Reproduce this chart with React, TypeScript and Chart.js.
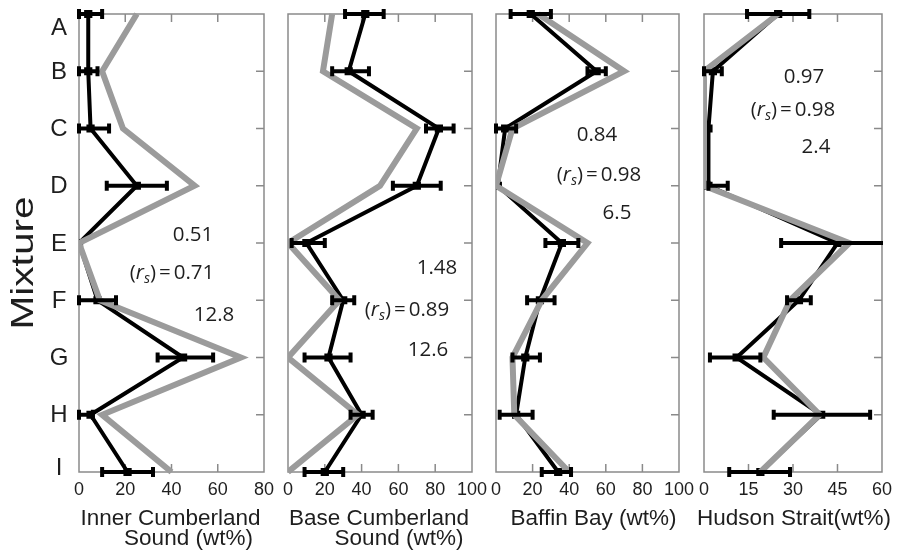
import React, { useEffect, useRef } from "react";
import { Chart, registerables } from "chart.js";

Chart.register(...registerables);

const W = 899;
const H = 551;

const mixtures = ["A", "B", "C", "D", "E", "F", "G", "H", "I"];

// Inner Cumberland Sound (wt%)
const innerMeasured = [4, 4, 5, 25, 0, 8, 45, 5, 21];
const innerLow = [0, 0, 0, 12, null, 0, 34, 0, 10];
const innerHigh = [10, 8, 13, 38, null, 16, 58, 6, 32];
const innerModel = [25, 10, 19, 50, 0, 9, 70, 10, 40];

// Base Cumberland Sound (wt%)
const baseMeasured = [42, 33, 82, 70, 10, 30, 22, 40, 20];
const baseLow = [31, 24, 75, 57, 2, 24, 9, 34, 9];
const baseHigh = [52, 44, 90, 83, 20, 36, 34, 46, 30];
const baseModel = [24, 19, 70, 50, 0, 28, 0, 38, 0];

// Baffin Bay (wt%)
const baffinMeasured = [19, 55, 5, 1, 36, 24, 16, 11, 34];
const baffinLow = [8, 50, 0, null, 27, 17, 9, 2, 25];
const baffinHigh = [30, 60, 11, null, 45, 32, 24, 20, 41];
const baffinModel = [23, 70, 9, 0, 50, 25, 9, 10, 40];

// Hudson Strait (wt%)
const hudsonMeasured = [25, 3, 1.5, 1.5, 45, 32, 11, 39.5, 19];
const hudsonLow = [14.5, 0, null, 1.5, 26, 28, 2, 23.5, 8.5];
const hudsonHigh = [35.5, 6, null, 8, 65, 36, 19, 56, 29];
const hudsonModel = [25, 0, 0, 0, 49, 29, 20, 39, 19];

const axisMax = [80, 100, 100, 60];
const axisStep = [20, 20, 20, 15];

const panelTitles = [
  ["Inner Cumberland", "Sound (wt%)"],
  ["Base Cumberland", "Sound (wt%)"],
  ["Baffin Bay (wt%)"],
  ["Hudson Strait(wt%)"],
];

const statTop = ["0.51", "1.48", "0.84", "0.97"];
const statRs = ["0.71", "0.89", "0.98", "0.98"];
const statBottom = ["12.8", "12.6", "6.5", "2.4"];

const yAxisTitle = "Mixture";

const measured = [innerMeasured, baseMeasured, baffinMeasured, hudsonMeasured];
const lows = [innerLow, baseLow, baffinLow, hudsonLow];
const highs = [innerHigh, baseHigh, baffinHigh, hudsonHigh];
const models = [innerModel, baseModel, baffinModel, hudsonModel];

// ---- layout / style (not data) ----
const HELV = '"Liberation Sans", Arial, Helvetica, sans-serif';
const SANS2 = '"Open Sans", "Noto Sans", sans-serif';
const FRAME = "#8a8a8a";
const GRAY = "#9b9b9b";
const TEXT = "#1e1e1e";

const areaLeft = [79, 288, 496, 704];
const areaRight = [264, 472, 679, 888];
const areaTop = 14;
const areaBottom = 472;

const statPos = [
  [[193, 235], [172, 273], [214, 315]],
  [[437, 268], [407, 310], [428, 350]],
  [[597, 135], [599, 175], [617, 213]],
  [[804, 77], [793, 110], [816, 147]],
];
const titleDx = [[-1, 17], [-1, 19], [6], [1]];

function drawRs(ctx: CanvasRenderingContext2D, value: string, cx: number, cy: number) {
  const base = `20.5px ${SANS2}`;
  const ital = `italic 20.5px ${SANS2}`;
  const sub = `italic 14px ${SANS2}`;
  const parts = [
    { t: "(", f: base, dy: 0, gap: 0 },
    { t: "r", f: ital, dy: 0, gap: 0 },
    { t: "s", f: sub, dy: 6, gap: 0 },
    { t: ")", f: base, dy: 0, gap: 3 },
    { t: "=", f: base, dy: 0, gap: 3 },
    { t: value, f: base, dy: 0, gap: 0 },
  ];
  let total = 0;
  for (const p of parts) {
    ctx.font = p.f;
    total += ctx.measureText(p.t).width + p.gap;
  }
  let x = cx - total / 2;
  ctx.textAlign = "left";
  ctx.textBaseline = "middle";
  for (const p of parts) {
    ctx.font = p.f;
    ctx.fillText(p.t, x, cy + p.dy);
    x += ctx.measureText(p.t).width + p.gap;
  }
}

function makePlugin(idx: number) {
  return {
    id: "decor" + idx,
    beforeDatasetsDraw(chart: any) {
      const { ctx, chartArea: a, scales } = chart;
      const x = scales.x;
      const y = scales.y;
      ctx.save();
      ctx.strokeStyle = FRAME;
      ctx.lineWidth = 1.5;
      ctx.strokeRect(a.left, a.top, a.right - a.left, a.bottom - a.top);
      ctx.beginPath();
      const ticks = x.ticks;
      for (let k = 1; k < ticks.length - 1; k++) {
        const px = x.getPixelForValue(ticks[k].value);
        ctx.moveTo(px, a.top);
        ctx.lineTo(px, a.top + 8);
        ctx.moveTo(px, a.bottom);
        ctx.lineTo(px, a.bottom - 8);
      }
      for (let i = 1; i < mixtures.length - 1; i++) {
        const py = y.getPixelForValue(i);
        ctx.moveTo(a.right, py);
        ctx.lineTo(a.right - 8, py);
      }
      ctx.stroke();
      ctx.restore();
    },
    afterDatasetsDraw(chart: any) {
      const { ctx, chartArea: a, scales } = chart;
      const x = scales.x;
      const y = scales.y;
      const lo = lows[idx];
      const hi = highs[idx];
      ctx.save();
      ctx.beginPath();
      ctx.rect(a.left - 3, a.top - 10, a.right - a.left + 4, a.bottom - a.top + 20);
      ctx.clip();
      ctx.strokeStyle = "#000";
      ctx.fillStyle = "#000";
      ctx.lineWidth = 4;
      for (let i = 0; i < mixtures.length; i++) {
        if (lo[i] == null || hi[i] == null) continue;
        const x1 = x.getPixelForValue(lo[i]);
        const x2 = x.getPixelForValue(hi[i]);
        const py = y.getPixelForValue(i);
        ctx.beginPath();
        ctx.moveTo(x1, py);
        ctx.lineTo(x2, py);
        ctx.stroke();
        ctx.fillRect(x1 - 2, py - 5, 4, 10);
        ctx.fillRect(x2 - 2, py - 5, 4, 10);
      }
      ctx.restore();
    },
    afterDraw(chart: any) {
      const { ctx, chartArea: a, scales } = chart;
      const y = scales.y;
      ctx.save();
      ctx.fillStyle = TEXT;
      // stats
      const sp = statPos[idx];
      ctx.font = `20.5px ${SANS2}`;
      ctx.textAlign = "center";
      ctx.textBaseline = "middle";
      ctx.fillText(statTop[idx], sp[0][0], sp[0][1]);
      ctx.fillText(statBottom[idx], sp[2][0], sp[2][1]);
      drawRs(ctx, statRs[idx], sp[1][0], sp[1][1]);
      // x titles
      const cx = (a.left + a.right) / 2;
      ctx.font = `22.5px ${HELV}`;
      ctx.textAlign = "center";
      ctx.textBaseline = "middle";
      const lines = panelTitles[idx];
      lines.forEach((ln, k) => {
        ctx.fillText(ln, cx + titleDx[idx][k], 519 + k * 20);
      });
      // y labels and title on first panel
      if (idx === 0) {
        ctx.font = `24px ${HELV}`;
        ctx.textAlign = "center";
        ctx.textBaseline = "middle";
        for (let i = 0; i < mixtures.length; i++) {
          let py = y.getPixelForValue(i);
          py = Math.max(a.top + 13, Math.min(a.bottom - 5, py));
          ctx.fillText(mixtures[i], a.left - 20, py + 1);
        }
        ctx.translate(24, 263);
        ctx.rotate(-Math.PI / 2);
        ctx.scale(1.27, 1);
        ctx.font = `32px ${HELV}`;
        ctx.fillText(yAxisTitle, 0, 0);
      }
      ctx.restore();
    },
  };
}

function makeConfig(idx: number): any {
  return {
    type: "line",
    data: {
      labels: mixtures,
      datasets: [
        {
          label: "Model",
          data: models[idx],
          borderColor: GRAY,
          backgroundColor: GRAY,
          borderWidth: 6,
          pointRadius: 0,
          order: 0,
          tension: 0,
        },
        {
          label: "Measured",
          data: measured[idx],
          borderColor: "#000",
          backgroundColor: "#000",
          borderWidth: 4,
          pointStyle: "rect",
          pointRadius: 3,
          order: 1,
          tension: 0,
        },
      ],
    },
    options: {
      indexAxis: "y",
      animation: false,
      responsive: false,
      maintainAspectRatio: false,
      devicePixelRatio: 1,
      layout: {
        padding: { left: areaLeft[idx], right: W - areaRight[idx], top: areaTop, bottom: 0 },
      },
      plugins: { legend: { display: false }, tooltip: { enabled: false } },
      scales: {
        y: { type: "category", display: false, offset: false },
        x: {
          type: "linear",
          position: "bottom",
          min: 0,
          max: axisMax[idx],
          ticks: {
            stepSize: axisStep[idx],
            font: { family: HELV, size: 18 },
            color: TEXT,
            padding: 7,
            maxRotation: 0,
            autoSkip: false,
          },
          grid: { display: false, drawTicks: false },
          border: { display: false },
          afterFit: (s: any) => {
            s.height = H - areaBottom;
          },
        },
      },
    },
    plugins: [makePlugin(idx)],
  };
}

function Panel({ idx }: { idx: number }) {
  const ref = useRef<HTMLCanvasElement | null>(null);
  useEffect(() => {
    if (!ref.current) return;
    const chart = new Chart(ref.current, makeConfig(idx));
    return () => chart.destroy();
  }, [idx]);
  return (
    <canvas
      ref={ref}
      width={W}
      height={H}
      style={{ position: "absolute", left: 0, top: 0, width: W, height: H }}
    />
  );
}

export default function App() {
  return (
    <div style={{ position: "absolute", left: 0, top: 0, width: W, height: H, background: "#fff" }}>
      {[0, 1, 2, 3].map((i) => (
        <Panel key={i} idx={i} />
      ))}
    </div>
  );
}
